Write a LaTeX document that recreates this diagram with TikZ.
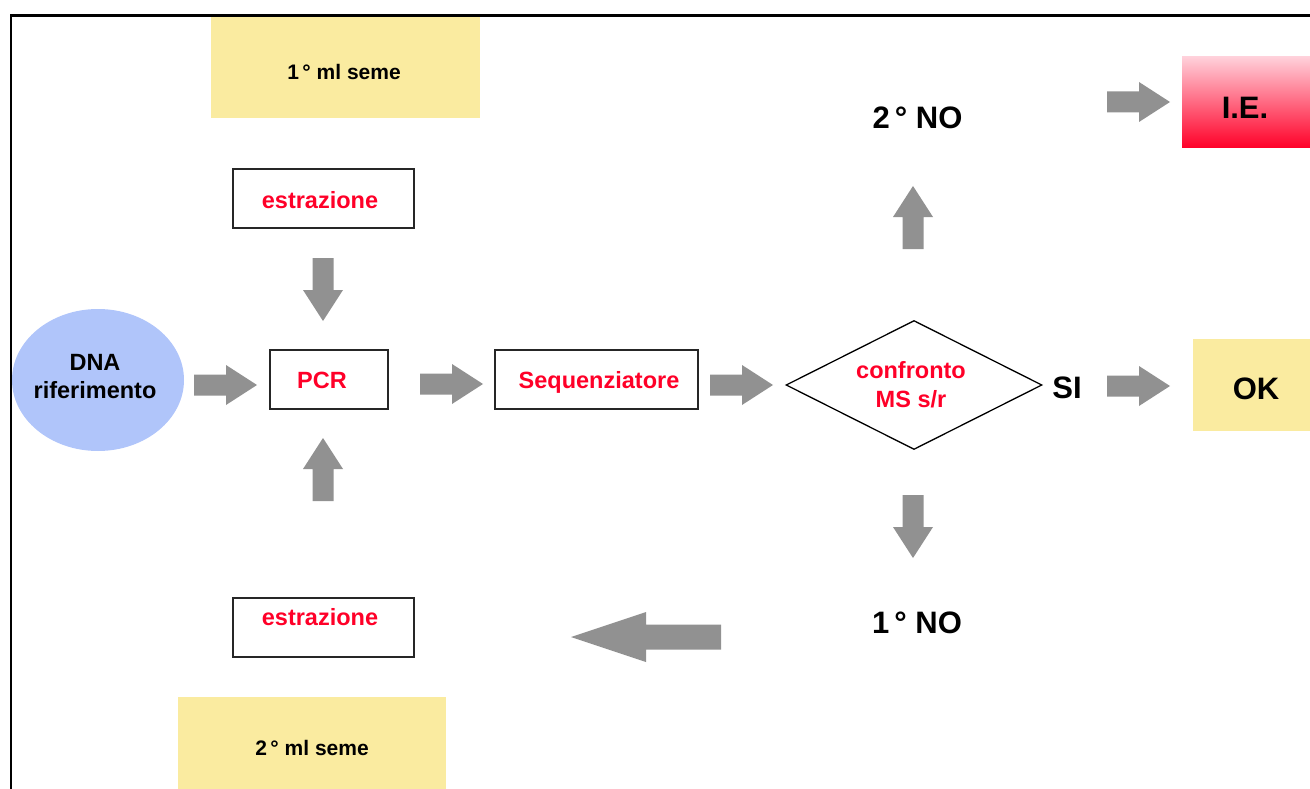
\documentclass[tikz,border=0pt]{standalone}
\usepackage{fontspec}
\setmainfont{Liberation Sans}
\usepackage{tikz}
\usetikzlibrary{shapes.geometric}
\definecolor{ered}{RGB}{255,0,40}
\definecolor{iepink}{RGB}{255,208,218}
\definecolor{semeyellow}{RGB}{250,235,160}
\definecolor{dnablue}{RGB}{176,197,250}
\definecolor{arrowgray}{RGB}{145,145,145}
\tikzstyle{semebox} = [rectangle, fill=semeyellow, inner sep=0pt]
\tikzstyle{redbox} = [rectangle, draw=black!85, line width=1.5pt, inner sep=0pt, minimum height=59pt]
\tikzstyle{redtext} = [text=ered, font=\fontsize{23.5}{29}\selectfont\bfseries, align=center, text depth=0pt]
\tikzstyle{blacktext} = [font=\fontsize{23.5}{28}\selectfont\bfseries, align=center, text depth=0pt]
\tikzstyle{smalltext} = [font=\fontsize{21}{25}\selectfont\bfseries, text depth=0pt]
\tikzstyle{bigtext} = [font=\fontsize{31}{36}\selectfont\bfseries, text depth=0pt]

\begin{document}
\begin{tikzpicture}[x=1pt, y=-1pt]

  \useasboundingbox (0,0) rectangle (1310,789);

  % frame
  \draw[line width=2.5pt] (1312,15.5) -- (11,15.5) -- (11,792);

  % samples
  \node[semebox, minimum width=269pt, minimum height=101pt] (seme1) at (345.5,67.5) {};
  \node[smalltext] (seme1-t) at (344,72) {1\,° ml seme};
  \node[semebox, minimum width=268pt, minimum height=102pt] (seme2) at (312,748) {};
  \node[smalltext] (seme2-t) at (312,748) {2\,° ml seme};

  % left column
  \node[redbox, minimum width=181pt] (estr1) at (323.5,198.5) {};
  \node[redtext] (estr1-t) at (320,200) {estrazione};
  \node[redbox, minimum width=181pt] (estr2) at (323.5,627.5) {};
  \node[redtext] (estr2-t) at (320,617) {estrazione};
  \node[ellipse, fill=dnablue, minimum width=172pt, minimum height=142pt] (dna) at (98,380) {};
  \node[blacktext] (dna-t) at (95,376) {DNA\\riferimento};
  \node[redbox, minimum width=118pt] (pcr) at (329,379.5) {};
  \node[redtext] (pcr-t) at (322,380) {PCR};
  \node[redbox, minimum width=203pt] (seq) at (596.5,379.5) {};
  \node[redtext] (seq-t) at (599,380) {Sequenziatore};

  % decision
  \node[diamond, draw, line width=1.3pt, inner sep=0pt, minimum width=256pt, minimum height=129pt] (conf) at (914,385) {};
  \node[redtext] (conf-t) at (911,384.5) {confronto\\MS s/r};
  \node[bigtext] (si) at (1067,388) {SI};
  \node[bigtext] (no2) at (917.5,118) {2\,° NO};
  \node[bigtext] (no1) at (917,622.5) {1\,° NO};

  % results
  \node[rectangle, fill=semeyellow, inner sep=0pt, minimum width=127pt, minimum height=92pt] (ok) at (1256.5,385) {};
  \node[bigtext] (ok-t) at (1256,389) {OK};
  \node[rectangle, top color=iepink, bottom color=ered, inner sep=0pt, minimum width=138pt, minimum height=91pt] (ie) at (1251,102.5) {};
  \node[bigtext] (ie-t) at (1245,108) {I.E.};

  % block arrows
  \foreach \x/\y/\a in {194/385/0, 420/384/0, 710/385/0, 1107/386/0, 1107/102/0,
                        323/258/-90, 323/501/90, 913/249/90, 913/495/-90} {
    \fill[arrowgray, shift={(\x,\y)}, rotate=\a]
      (0,-10.5) -- (32,-10.5) -- (32,-20) -- (63,0) -- (32,20) -- (32,10.5) -- (0,10.5) -- cycle;
  }
  \fill[arrowgray] (721,624.5) -- (646,624.5) -- (646,612) -- (571,637)
    -- (646,662) -- (646,649.5) -- (721,649.5) -- cycle;

\end{tikzpicture}
\end{document}
